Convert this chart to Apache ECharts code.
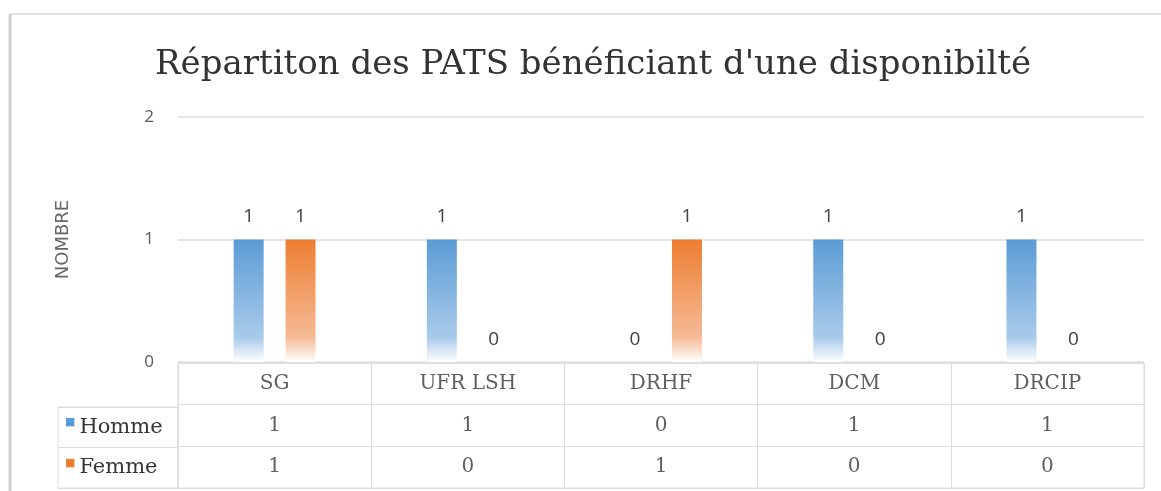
<!DOCTYPE html>
<html>
<head>
<meta charset="utf-8">
<script src="https://cdn.jsdelivr.net/npm/echarts@6/dist/echarts.min.js"></script>
<style>
html,body{margin:0;padding:0;background:#fff;}
#chart{width:1161px;height:491px;}
</style>
</head>
<body>
<div id="chart"></div>
<script>
// donnees
var categories = ['SG', 'UFR LSH', 'DRHF', 'DCM', 'DRCIP'];
var homme = [1, 1, 0, 1, 1];
var femme = [1, 0, 1, 0, 0];
var seriesNames = ['Homme', 'Femme'];

var bleu = '#5b9bd5';
var orange = '#ed7d31';

function degrade(c, mid) {
	return new echarts.graphic.LinearGradient(0, 0, 0, 1, [
		{offset: 0, color: c},
		{offset: 0.8, color: mid},
		{offset: 1, color: '#ffffff'}
	]);
}

var myChart = echarts.init(document.getElementById('chart'));
var serif = 'DejaVu Serif';
var txtTableau = {show: true, position: 'inside', fontFamily: serif, fontSize: 20, color: '#363636',
	formatter: function(p) { return p.value[2]; }};

var option = {
	animation: false,
	title: {
		text: "Répartiton des PATS bénéficiant d'une disponibilté",
		left: 150,
		top: 43,
		textStyle: {fontFamily: serif, fontWeight: 'normal', fontSize: 34, color: '#333'}
	},
	graphic: [
		{type: 'line', shape: {x1: 10, y1: 14, x2: 1161, y2: 14}, style: {stroke: '#e3e3e3', lineWidth: 2}},
		{type: 'line', shape: {x1: 10, y1: 14, x2: 10, y2: 491}, style: {stroke: '#d0d0d0', lineWidth: 3}}
	],
	grid: [
		{left: 178, right: 17, top: 117, bottom: 129},
		{left: 178, right: 17, top: 363, bottom: 3, show: true, borderColor: '#dcdcdc', borderWidth: 1},
		{left: 58, width: 120, top: 407, bottom: 3, show: true, borderColor: '#dcdcdc', borderWidth: 1}
	],
	xAxis: [
		{type: 'category', gridIndex: 0, data: categories, axisLine: {show: false}, axisTick: {show: false}, axisLabel: {show: false}},
		{type: 'category', gridIndex: 1, data: categories, axisLine: {show: false}, axisTick: {show: false}, axisLabel: {show: false},
			splitLine: {show: true, lineStyle: {color: '#dcdcdc'}}},
		{type: 'value', gridIndex: 2, min: 0, max: 1, show: false}
	],
	yAxis: [
		{type: 'value', gridIndex: 0, min: 0, max: 2, interval: 1,
			name: 'NOMBRE', nameLocation: 'middle', nameGap: 106, nameRotate: 90,
			nameTextStyle: {color: '#666', fontSize: 18, fontFamily: 'DejaVu Sans'},
			axisLabel: {color: '#595959', fontSize: 17, margin: 24, fontFamily: 'Open Sans'},
			axisLine: {show: false}, axisTick: {show: false},
			splitLine: {lineStyle: {color: '#dcdcdc', width: 1.5}}},
		{type: 'category', gridIndex: 1, inverse: true, data: ['tete'].concat(seriesNames),
			axisLine: {show: false}, axisTick: {show: false}, axisLabel: {show: false},
			splitLine: {show: true, lineStyle: {color: '#dcdcdc'}}},
		{type: 'category', gridIndex: 2, inverse: true, data: seriesNames,
			axisLine: {show: false}, axisTick: {show: false},
			splitLine: {show: true, lineStyle: {color: '#dcdcdc'}},
			axisLabel: {inside: true, margin: 7, fontFamily: serif, fontSize: 21, color: '#363636',
				formatter: function(v) { return '{' + (v === 'Homme' ? 'h' : 'f') + '|■}' + v; },
				rich: {
					h: {color: bleu, fontSize: 11, verticalAlign: 'top', padding: [0, 4, 8, 0]},
					f: {color: orange, fontSize: 11, verticalAlign: 'top', padding: [0, 4, 8, 0]}
				}}}
	],
	series: [
		{name: 'Homme', type: 'bar', xAxisIndex: 0, yAxisIndex: 0, data: homme,
			barWidth: 30, barGap: '73%', itemStyle: {color: degrade(bleu, '#a9cbea')},
			label: {show: true, position: 'top', distance: 13, color: '#404040', fontSize: 19, fontFamily: 'Open Sans'}},
		{name: 'Femme', type: 'bar', xAxisIndex: 0, yAxisIndex: 0, data: femme,
			barWidth: 30, barGap: '73%', itemStyle: {color: degrade(orange, '#f5bb96')},
			label: {show: true, position: 'top', distance: 13, color: '#404040', fontSize: 19, fontFamily: 'Open Sans'}},
		// tableau de donnees
		{type: 'scatter', xAxisIndex: 1, yAxisIndex: 1, symbolSize: 0, silent: true,
			data: categories.map(function(c) { return [c, 'tete', c]; }), label: txtTableau},
		{type: 'scatter', xAxisIndex: 1, yAxisIndex: 1, symbolSize: 0, silent: true,
			data: homme.map(function(v, i) { return [categories[i], 'Homme', v]; }), label: txtTableau},
		{type: 'scatter', xAxisIndex: 1, yAxisIndex: 1, symbolSize: 0, silent: true,
			data: femme.map(function(v, i) { return [categories[i], 'Femme', v]; }), label: txtTableau}
	]
};

myChart.setOption(option);
</script>
</body>
</html>
